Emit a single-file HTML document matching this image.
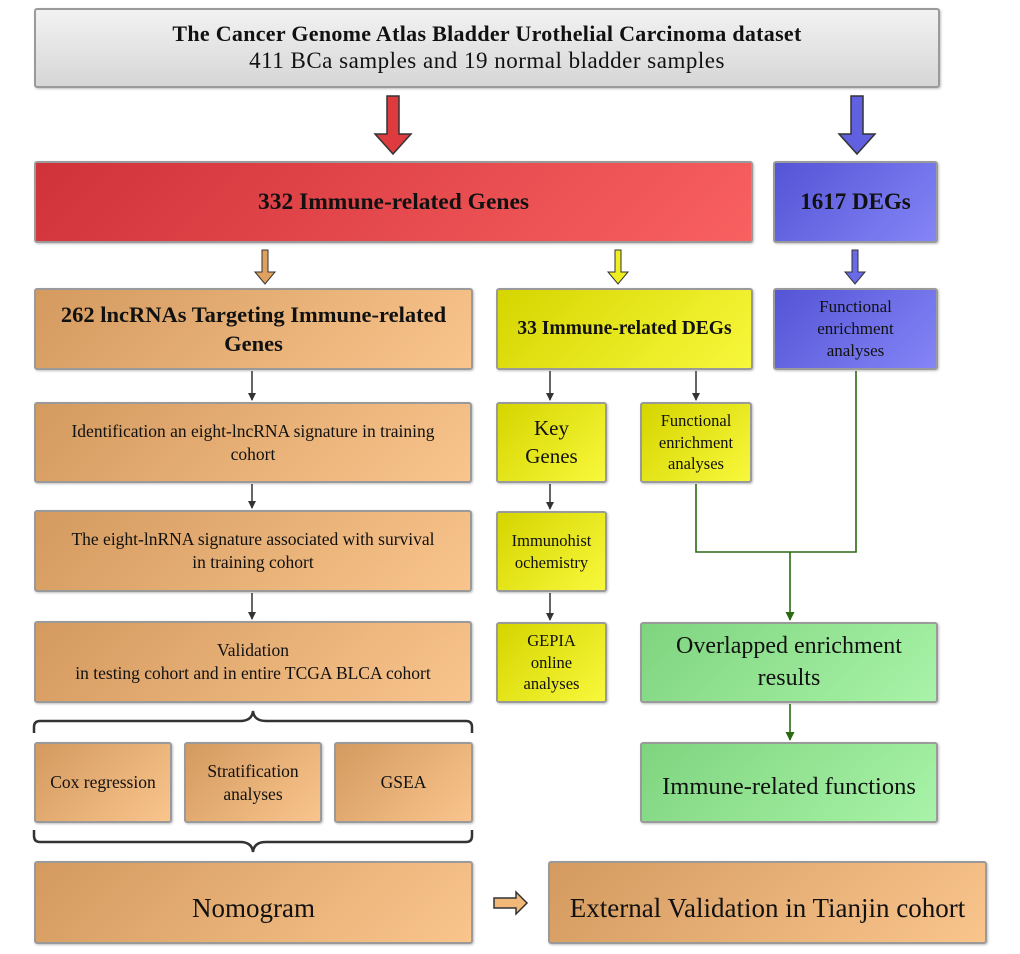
<!DOCTYPE html>
<html><head><style>
body{margin:0;width:1020px;height:954px;background:#fff;position:relative;font-family:"Liberation Serif",serif;overflow:hidden}
.b{position:absolute;box-sizing:border-box;border:2px solid #9a9a9a;border-radius:3px;display:flex;align-items:center;justify-content:center;text-align:center;color:#111;line-height:1.3;box-shadow:1px 1px 2px rgba(0,0,0,.25)}
.o{background:linear-gradient(135deg,#d49a5f,#f9c58d)}
.y{background:linear-gradient(135deg,#d5d500,#f8f83c)}
.p{background:linear-gradient(135deg,#5454d6,#8585f7)}
.r{background:linear-gradient(135deg,#d0323a,#f96060)}
.g{background:linear-gradient(135deg,#7fd47f,#a8f3a8)}
svg{position:absolute;left:0;top:0}
</style></head><body>
<div class="b" style="left:34px;top:8px;width:906px;height:80px;background:linear-gradient(#f2f2f2,#d6d6d6);font-size:22px;line-height:1.2;flex-direction:column"><b style="letter-spacing:.3px">The Cancer Genome Atlas Bladder Urothelial Carcinoma dataset</b><span style="font-size:23px;letter-spacing:.5px">411 BCa samples and 19 normal bladder samples</span></div>
<div class="b r" style="left:34px;top:161px;width:719px;height:82px;font-size:23.5px"><b>332 Immune-related Genes</b></div>
<div class="b p" style="left:773px;top:161px;width:165px;height:82px;font-size:23px"><b>1617 DEGs</b></div>
<div class="b o" style="left:34px;top:288px;width:439px;height:82px;font-size:22.5px;padding:0 18px"><b>262 lncRNAs Targeting Immune-related Genes</b></div>
<div class="b y" style="left:496px;top:288px;width:257px;height:82px;font-size:19.5px"><b>33 Immune-related DEGs</b></div>
<div class="b p" style="left:773px;top:288px;width:165px;height:82px;font-size:17px">Functional<br>enrichment<br>analyses</div>
<div class="b o" style="left:34px;top:402px;width:438px;height:81px;font-size:17.5px;padding:0 20px">Identification an eight-lncRNA signature in training<br>cohort</div>
<div class="b o" style="left:34px;top:510px;width:438px;height:82px;font-size:17.5px;padding:0 10px">The eight-lnRNA signature associated with survival<br>in training cohort</div>
<div class="b o" style="left:34px;top:621px;width:438px;height:82px;font-size:17.5px">Validation<br>in testing cohort and in entire TCGA BLCA cohort</div>
<div class="b y" style="left:496px;top:402px;width:111px;height:81px;font-size:21px">Key<br>Genes</div>
<div class="b y" style="left:496px;top:511px;width:111px;height:81px;font-size:16.5px">Immunohist<br>ochemistry</div>
<div class="b y" style="left:496px;top:622px;width:111px;height:81px;font-size:16.5px">GEPIA<br>online<br>analyses</div>
<div class="b y" style="left:640px;top:402px;width:112px;height:81px;font-size:16.5px">Functional<br>enrichment<br>analyses</div>
<div class="b g" style="left:640px;top:622px;width:298px;height:81px;font-size:24px">Overlapped enrichment<br>results</div>
<div class="b g" style="left:640px;top:742px;width:298px;height:81px;font-size:24.5px;padding-top:8px">Immune-related functions</div>
<div class="b o" style="left:34px;top:742px;width:138px;height:81px;font-size:17.5px">Cox regression</div>
<div class="b o" style="left:184px;top:742px;width:138px;height:81px;font-size:17.5px">Stratification<br>analyses</div>
<div class="b o" style="left:334px;top:742px;width:139px;height:81px;font-size:17.5px">GSEA</div>
<div class="b o" style="left:34px;top:861px;width:439px;height:83px;font-size:27px;padding-top:12px">Nomogram</div>
<div class="b o" style="left:548px;top:861px;width:439px;height:83px;font-size:27px;padding-top:12px">External Validation in Tianjin cohort</div>
<svg width="1020" height="954">
<defs><marker id="k" markerWidth="8" markerHeight="8" refX="7" refY="4" orient="auto" markerUnits="userSpaceOnUse"><path d="M0,0L8,4L0,8z" fill="#333"/></marker>
<marker id="gm" markerWidth="9" markerHeight="9" refX="8" refY="4.5" orient="auto" markerUnits="userSpaceOnUse"><path d="M0,0L9,4.5L0,9z" fill="#2a6a10"/></marker></defs>
<path d="M387,96h12v38h12l-18,20l-18,-20h12z" fill="#de3b3f" stroke="#333" stroke-width="1.5"/>
<path d="M851,96h12v38h12l-18,20l-18,-20h12z" fill="#6060e0" stroke="#333" stroke-width="1.5"/>
<path d="M262,250h6v22h7l-10,12l-10,-12h7z" fill="#e0a060" stroke="#333" stroke-width="1"/>
<path d="M615,250h6v22h7l-10,12l-10,-12h7z" fill="#eeee20" stroke="#333" stroke-width="1"/>
<path d="M852,250h6v22h7l-10,12l-10,-12h7z" fill="#6a6ae8" stroke="#333" stroke-width="1"/>
<g stroke="#333" stroke-width="1.5" fill="none" marker-end="url(#k)">
<line x1="252" y1="371" x2="252" y2="400"/><line x1="252" y1="484" x2="252" y2="508"/><line x1="252" y1="593" x2="252" y2="619"/>
<line x1="550" y1="371" x2="550" y2="400"/><line x1="696" y1="371" x2="696" y2="400"/>
<line x1="550" y1="484" x2="550" y2="509"/><line x1="550" y1="593" x2="550" y2="620"/>
</g>
<g stroke="#2a6a10" stroke-width="1.6" fill="none">
<path d="M696,484V552H856V371"/><path d="M790,552V620" marker-end="url(#gm)"/><path d="M790,704V740" marker-end="url(#gm)"/>
</g>
<g stroke="#333" stroke-width="2.5" fill="none">
<path d="M34,733v-6q0,-6 6,-6h200q12,0 13,-10q1,10 13,10h200q6,0 6,6v6"/>
<path d="M34,830v6q0,6 6,6h200q12,0 13,10q1,-10 13,-10h200q6,0 6,-6v-6"/>
</g>
<path d="M494,898h22v-6l11,11l-11,11v-6h-22z" fill="#f2b878" stroke="#333" stroke-width="1.5"/>
</svg>
</body></html>
